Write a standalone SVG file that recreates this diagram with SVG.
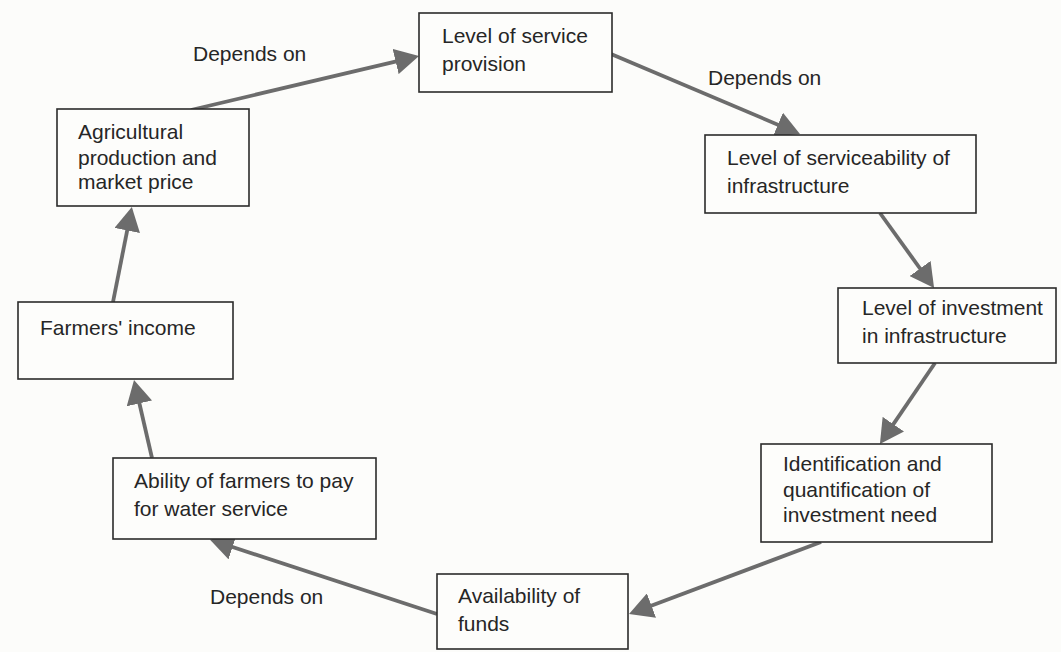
<svg xmlns="http://www.w3.org/2000/svg" width="1061" height="652" viewBox="0 0 1061 652">
<style>
.box{fill:#fdfdfb;stroke:#2b2b2b;stroke-width:1.6}
.t{font-family:"Liberation Sans",Arial,sans-serif;font-size:21px;fill:#262626}
.c{stroke:#6c6c6c;stroke-width:3.8;fill:none}
</style>
<defs>
<marker id="ah" markerUnits="userSpaceOnUse" viewBox="0 0 24 26" refX="16" refY="13" markerWidth="24" markerHeight="26" orient="auto">
<path d="M0,0 L24,13 L0,26 z" fill="#6c6c6c"/>
</marker>
</defs>
<rect width="1061" height="652" fill="#fcfcfa"/>
<g id="connectors">
<line class="c" x1="191" y1="110" x2="411.2" y2="57.8" marker-end="url(#ah)"/>
<line class="c" x1="611" y1="54" x2="792.6" y2="130.9" marker-end="url(#ah)"/>
<line class="c" x1="880" y1="213" x2="929.4" y2="281.5" marker-end="url(#ah)"/>
<line class="c" x1="935" y1="363" x2="884.4" y2="437.4" marker-end="url(#ah)"/>
<line class="c" x1="821" y1="542" x2="636.5" y2="611.2" marker-end="url(#ah)"/>
<line class="c" x1="437" y1="614" x2="217.4" y2="542.0" marker-end="url(#ah)"/>
<line class="c" x1="152" y1="458" x2="135.8" y2="387.8" marker-end="url(#ah)"/>
<line class="c" x1="113" y1="302" x2="130.3" y2="214.8" marker-end="url(#ah)"/>
</g>
<g id="n-service">
<rect class="box" x="419" y="13" width="193" height="79"/>
<text class="t" x="442" y="43">Level of service</text>
<text class="t" x="442" y="71">provision</text>
</g>
<g id="n-serviceability">
<rect class="box" x="705" y="135" width="271" height="78"/>
<text class="t" x="727" y="165">Level of serviceability of</text>
<text class="t" x="727" y="193">infrastructure</text>
</g>
<g id="n-investment">
<rect class="box" x="838" y="288" width="218" height="75"/>
<text class="t" x="862" y="315">Level of investment</text>
<text class="t" x="862" y="343">in infrastructure</text>
</g>
<g id="n-identification">
<rect class="box" x="761" y="444" width="231" height="98"/>
<text class="t" x="783" y="471">Identification and</text>
<text class="t" x="783" y="497">quantification of</text>
<text class="t" x="783" y="522">investment need</text>
</g>
<g id="n-funds">
<rect class="box" x="437" y="574" width="191" height="75"/>
<text class="t" x="458" y="603">Availability of</text>
<text class="t" x="458" y="631">funds</text>
</g>
<g id="n-ability">
<rect class="box" x="113" y="458" width="263" height="81"/>
<text class="t" x="134" y="488">Ability of farmers to pay</text>
<text class="t" x="134" y="516">for water service</text>
</g>
<g id="n-income">
<rect class="box" x="18" y="302" width="215" height="77"/>
<text class="t" x="40" y="335">Farmers' income</text>
</g>
<g id="n-agri">
<rect class="box" x="57" y="109" width="192" height="97"/>
<text class="t" x="78" y="139">Agricultural</text>
<text class="t" x="78" y="165">production and</text>
<text class="t" x="78" y="189">market price</text>
</g>
<g id="labels">
<text class="t" x="193" y="61">Depends on</text>
<text class="t" x="708" y="85">Depends on</text>
<text class="t" x="210" y="604">Depends on</text>
</g>
</svg>
